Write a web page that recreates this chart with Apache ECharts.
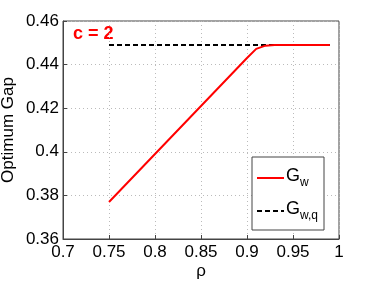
<!DOCTYPE html>
<html><head><meta charset="utf-8">
<script src="https://cdn.jsdelivr.net/npm/echarts@6/dist/echarts.min.js"></script>
<style>html,body{margin:0;padding:0;background:#fff}#c{width:374px;height:281px}</style>
</head><body><div id="c"></div>
<script>
const rho = [0.75, 0.80, 0.85, 0.90, 0.91, 0.92, 0.93, 0.95, 0.97, 0.99];
const gw  = [0.377, 0.399, 0.421, 0.443, 0.4472, 0.4487, 0.449, 0.449, 0.449, 0.449];
const rhoQ = [0.75, 0.99];
const gwq  = [0.449, 0.449];
const xTicks = ['0.7','0.75','0.8','0.85','0.9','0.95','1'];
const yTicks = ['0.36','0.38','0.4','0.42','0.44','0.46'];
const FONT = 'Liberation Sans, Arial, sans-serif';
const chart = echarts.init(document.getElementById('c'));
const fmtX = v => { const i = Math.round((v-0.7)/0.05); return xTicks[i] !== undefined ? xTicks[i] : ''; };
const fmtY = v => { const i = Math.round((v-0.36)/0.02); return yTicks[i] !== undefined ? yTicks[i] : ''; };
chart.setOption({
  animation: false,
  grid: {left: 63, right: 35, top: 21, bottom: 42, show: true, borderColor: '#444', borderWidth: 1, backgroundColor: 'transparent', outerBoundsMode: 'none', containLabel: false},
  xAxis: {type: 'value', min: 0.7, max: 1, interval: 0.05,
    name: 'ρ', nameLocation: 'middle', nameGap: 24, nameMoveOverlap: false, nameTextStyle: {fontFamily: FONT, fontSize: 17, color: '#000'},
    axisLine: {show: true, lineStyle: {color: '#444'}},
    axisTick: {show: true, inside: true, length: 4, lineStyle: {color: '#444'}},
    axisLabel: {formatter: fmtX, fontFamily: FONT, fontSize: 17, color: '#000', margin: 5, showMinLabel: true, showMaxLabel: true},
    splitLine: {show: true, lineStyle: {color: '#bbb', type: [1, 3], width: 1}}},
  yAxis: {type: 'value', min: 0.36, max: 0.46, interval: 0.02,
    name: 'Optimum Gap', nameLocation: 'middle', nameGap: 46, nameMoveOverlap: false, nameTextStyle: {fontFamily: FONT, fontSize: 17, color: '#000'},
    axisLine: {show: true, lineStyle: {color: '#444'}},
    axisTick: {show: true, inside: true, length: 4, lineStyle: {color: '#444'}},
    axisLabel: {formatter: fmtY, fontFamily: FONT, fontSize: 17, color: '#000', margin: 4, showMinLabel: true, showMaxLabel: true},
    splitLine: {show: true, lineStyle: {color: '#bbb', type: [1, 3], width: 1}}},
  legend: {
    orient: 'vertical', left: 252, top: 157,
    backgroundColor: '#fff', borderColor: '#444', borderWidth: 1, borderRadius: 0,
    padding: [8, 6, 8, 4], itemGap: 9, itemWidth: 27, itemHeight: 12,
    itemStyle: {opacity: 0},
    data: ['Gw', 'Gwq'],
    formatter: n => n === 'Gw' ? '{g|G}{s|w}' : '{g|G}{s|w,q}',
    textStyle: {fontFamily: FONT, color: '#000', padding: [0,0,0,-3],
      rich: {g: {fontSize: 18, fontFamily: FONT, color: '#000', lineHeight: 22, verticalAlign: 'top'},
             s: {fontSize: 12, fontFamily: FONT, color: '#000', lineHeight: 22, verticalAlign: 'bottom', padding: [12,0,0,0]}}}
  },
  graphic: [{type: 'text', left: 73, top: 25, style: {text: 'c = 2', fill: '#f00', font: 'bold 18px ' + FONT}}],
  series: [
    {name: 'Gw', type: 'line', showSymbol: false, symbol: 'none', data: rho.map((x,i)=>[x, gw[i]]),
     lineStyle: {color: '#f00', width: 2}, itemStyle: {color: '#f00'}, z: 3},
    {name: 'Gwq', type: 'line', showSymbol: false, symbol: 'none', data: rhoQ.map((x,i)=>[x, gwq[i]]),
     lineStyle: {color: '#000', width: 2, type: [5, 3]}, itemStyle: {color: '#000'}, z: 2}
  ]
});
</script></body></html>
